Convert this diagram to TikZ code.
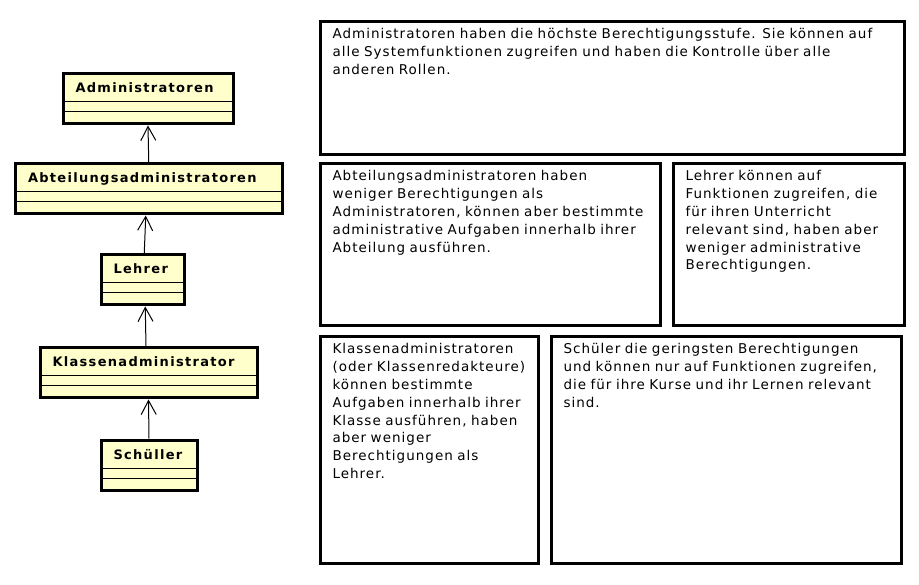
\documentclass[tikz,border=0pt]{standalone}
\usepackage{fontspec}
\usetikzlibrary{arrows.meta}
\newfontfamily\beschrfont[LetterSpace=7.5]{DejaVu Sans}
\newfontfamily\klassfont[LetterSpace=10]{DejaVu Sans}
\definecolor{klassgelb}{RGB}{255,255,204}
\tikzset{
  klasse/.style={draw, line width=3pt, fill=klassgelb, anchor=north west,
    minimum height=50pt, inner xsep=12.5pt, inner ysep=0pt,
    text height=19pt, text depth=31pt, align=left,
    font=\klassfont\bfseries\fontsize{13}{15}\selectfont,
    execute at begin node={\hyphenpenalty=10000 },
    path picture={
      \draw[line width=1pt] ([yshift=-28pt]path picture bounding box.north west) -- ([yshift=-28pt]path picture bounding box.north east);
      \draw[line width=1pt] ([yshift=-38pt]path picture bounding box.north west) -- ([yshift=-38pt]path picture bounding box.north east);
    }},
  beschr/.style={draw, line width=3pt, anchor=north west, inner xsep=12pt, inner ysep=0pt,
    text height=17pt, align=left,
    font=\beschrfont\fontsize{13.5}{17.8}\selectfont,
    execute at begin node={\hyphenpenalty=10000 }},
  erbt/.style={line width=1pt, -{Straight Barb[length=14pt,width=15pt]}}
}
\begin{document}
\begin{tikzpicture}[x=1pt,y=-1pt]
\useasboundingbox (0,0) rectangle (919,585);
% Klassen
\node[klasse, text width=145pt] (admin) at (61.5,72.5) {Administratoren};
\node[klasse, text width=241.5pt] (abt) at (14,162.5) {Abteilungsadministratoren};
\node[klasse, text width=58.5pt] (lehrer) at (99.5,253.5) {Lehrer};
\node[klasse, text width=192pt] (klassadm) at (38.5,346.5) {Klassenadministrator};
\node[klasse, text width=71pt] (schueler) at (99.5,438.5) {Schüller};
\draw[erbt] (abt.north) -- (admin.south);
\draw[erbt] ([xshift=1.5pt]lehrer.north) -- ([xshift=-3pt]abt.south);
\draw[erbt] ([xshift=-2.5pt]klassadm.north) -- ([xshift=2.5pt]lehrer.south);
\draw[erbt] (schueler.north) -- (klassadm.south);
% Beschreibungen
\node[beschr, text width=560pt, text depth=115.5pt] (admint) at (319,20.5)
  {Administratoren haben die höchste Berechtigungsstufe. Sie können auf\\
   alle Systemfunktionen zugreifen und haben die Kontrolle über alle\\
   anderen Rollen.};
\node[beschr, text width=315.5pt, text depth=144.5pt] (abtt) at (319,162.5)
  {Abteilungsadministratoren haben\\
   weniger Berechtigungen als\\
   Administratoren, können aber bestimmte\\
   administrative Aufgaben innerhalb ihrer\\
   Abteilung ausführen.};
\node[beschr, text width=207pt, text depth=144.5pt] (lehrert) at (672,162.5)
  {Lehrer können auf\\
   Funktionen zugreifen, die\\
   für ihren Unterricht\\
   relevant sind, haben aber\\
   weniger administrative\\
   Berechtigungen.};
\node[beschr, text width=194pt, text depth=209pt] (klassadmt) at (319,335.5)
  {Klassenadministratoren\\
   (oder Klassenredakteure)\\
   können bestimmte\\
   Aufgaben innerhalb ihrer\\
   Klasse ausführen, haben\\
   aber weniger\\
   Berechtigungen als\\
   Lehrer.};
\node[beschr, text width=326pt, text depth=209pt] (schuelert) at (550,335.5)
  {Schüler die geringsten Berechtigungen\\
   und können nur auf Funktionen zugreifen,\\
   die für ihre Kurse und ihr Lernen relevant\\
   sind.};
\end{tikzpicture}
\end{document}
